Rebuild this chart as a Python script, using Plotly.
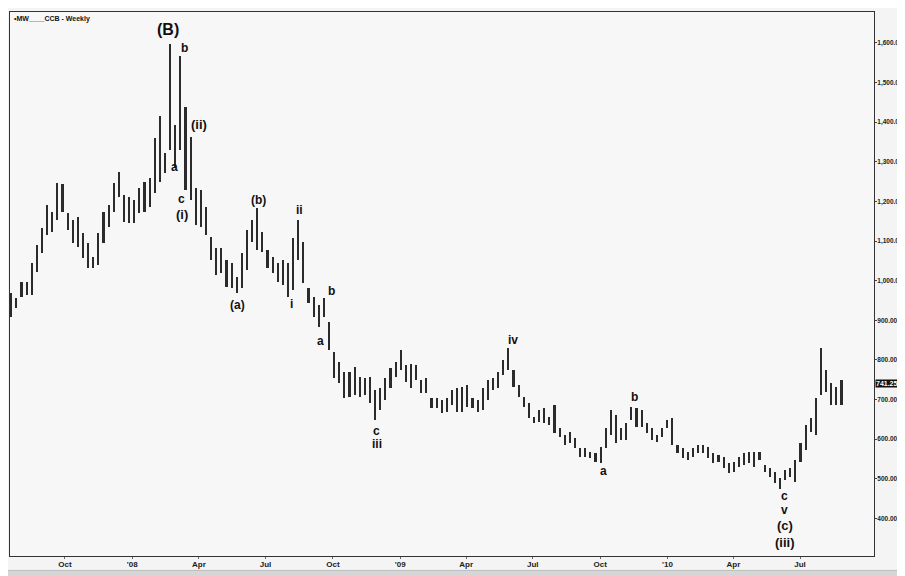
import pandas as pd
import plotly.graph_objects as go

# ---- data (weekly high / low) ----
start_week = "2007-07-20"
highs = [969, 956, 997, 997, 1044, 1090, 1133, 1191, 1173, 1246,
         1244, 1171, 1153, 1161, 1120, 1095, 1060, 1120, 1173, 1191,
         1246, 1274, 1216, 1211, 1204, 1234, 1249, 1259, 1360, 1416,
         1322, 1597, 1393, 1567, 1438, 1363, 1234, 1229, 1186, 1110,
         1082, 1082, 1052, 1044, 1009, 1070, 1128, 1153, 1183, 1123,
         1077, 1060, 1044, 1052, 1044, 1108, 1153, 1097, 981, 959,
         938, 956, 896, 820, 795, 769, 769, 782, 757, 754,
         757, 724, 729, 754, 779, 795, 825, 787, 790, 787,
         749, 754, 704, 704, 699, 704, 724, 729, 731, 736,
         704, 699, 729, 749, 754, 769, 800, 830, 774, 736,
         706, 691, 656, 673, 678, 656, 686, 628, 610, 618,
         603, 577, 577, 567, 565, 580, 628, 673, 661, 628,
         640, 681, 678, 673, 640, 628, 610, 628, 648, 653,
         585, 577, 567, 577, 585, 585, 580, 565, 560, 555,
         540, 542, 555, 565, 567, 567, 567, 535, 527, 517,
         502, 522, 527, 547, 590, 635, 653, 704, 830, 774,
         741, 731, 749]
lows = [908, 931, 959, 964, 964, 1022, 1070, 1115, 1123, 1153,
        1173, 1128, 1095, 1085, 1057, 1032, 1032, 1040, 1095, 1135,
        1173, 1211, 1148, 1145, 1145, 1171, 1173, 1186, 1221, 1249,
        1272, 1330, 1284, 1330, 1229, 1204, 1140, 1135, 1115, 1052,
        1014, 1019, 984, 981, 969, 981, 1027, 1097, 1077, 1072,
        1032, 1019, 996, 989, 959, 976, 1052, 994, 943, 908,
        883, 908, 825, 754, 741, 704, 706, 711, 706, 711,
        691, 648, 673, 699, 729, 757, 774, 744, 730, 749,
        716, 716, 678, 678, 666, 668, 686, 668, 668, 681,
        678, 668, 673, 699, 724, 729, 762, 774, 731, 706,
        681, 653, 641, 643, 641, 636, 615, 605, 585, 590,
        577, 555, 555, 552, 542, 540, 577, 610, 590, 598,
        598, 648, 630, 630, 615, 598, 593, 605, 628, 585,
        565, 552, 547, 555, 565, 565, 552, 540, 542, 527,
        514, 517, 529, 535, 540, 529, 547, 517, 504, 489,
        475, 497, 504, 492, 542, 572, 618, 610, 711, 719,
        686, 686, 686]
last_value = 741.25

tick_dates = ["2007-10-01", "2008-01-01", "2008-04-01", "2008-07-01", "2008-10-01",
              "2009-01-01", "2009-04-01", "2009-07-01", "2009-10-01",
              "2010-01-01", "2010-04-01", "2010-07-01"]
tick_text = ["Oct", "'08", "Apr", "Jul", "Oct", "'09", "Apr", "Jul", "Oct", "'10", "Apr", "Jul"]
price_ticks = [400, 500, 600, 700, 800, 900, 1000, 1100, 1200, 1300, 1400, 1500, 1600]

# wave labels: (text, week position, price, font size)
wave_labels = [
    ("(B)", 30.6, 1633, 16), ("b", 33.7, 1587, 12), ("(ii)", 36.5, 1393, 13),
    ("a", 31.8, 1287, 12), ("c", 33.2, 1206, 12), ("(i)", 33.2, 1166, 13),
    ("(b)", 48.2, 1204, 12), ("ii", 56.1, 1178, 12), ("(a)", 44.1, 938, 12),
    ("i", 54.7, 941, 12), ("b", 62.4, 974, 12), ("a", 60.2, 848, 12),
    ("c", 71.3, 620, 12), ("iii", 71.3, 587, 12), ("iv", 97.9, 850, 12),
    ("b", 121.5, 706, 12), ("a", 115.5, 519, 12),
    ("c", 150.9, 456, 12), ("v", 150.9, 421, 12), ("(c)", 150.9, 383, 13),
    ("(iii)", 150.9, 338, 13),
]

dates = pd.date_range(start_week, periods=len(highs), freq="7D")
ranges = [h - l for h, l in zip(highs, lows)]

fig = go.Figure()
fig.add_trace(go.Bar(
    x=dates, y=ranges, base=lows,
    width=2.2 * 86400000,
    marker=dict(color="#2b2b2b", line=dict(width=0)),
    showlegend=False,
))

t0 = pd.Timestamp(start_week)
annotations = []
for txt, pos, val, size in wave_labels:
    annotations.append(dict(
        x=t0 + pd.Timedelta(days=7 * pos), y=val, xref="x", yref="y",
        text=txt, showarrow=False,
        font=dict(family="Liberation Sans", size=size, color="#111", weight="bold"),
    ))

annotations.append(dict(
    x=0.002, y=0.998, xref="paper", yref="paper", xanchor="left", yanchor="top",
    text="•MW____CCB - Weekly", showarrow=False,
    font=dict(family="Liberation Sans", size=7, color="#111", weight="bold"),
))
annotations.append(dict(
    x=1.0, y=last_value, xref="paper", yref="y", xanchor="left", yanchor="middle",
    xshift=1, text="741.25", showarrow=False, bgcolor="#111",
    borderpad=0, font=dict(family="Liberation Sans", size=7, color="white", weight="bold"),
))

fig.update_layout(
    width=897, height=568,
    margin=dict(l=2, r=31, t=4, b=20, autoexpand=False),
    paper_bgcolor="#f4f4f4", plot_bgcolor="#f7f7f7",
    bargap=0,
    annotations=annotations,
    xaxis=dict(
        type="date", range=["2007-07-18", "2010-10-10"], automargin=False,
        tickvals=tick_dates, ticktext=tick_text,
        ticks="outside", ticklen=2, tickcolor="#666",
        ticklabelstandoff=-2,
        showgrid=False, zeroline=False,
        showline=True, linecolor="#333", linewidth=1, mirror=True,
        tickfont=dict(family="Liberation Sans", size=8, color="#222", weight="bold"),
    ),
    yaxis=dict(
        side="right", range=[305, 1678], automargin=False,
        tickvals=price_ticks, tickformat=",.2f",
        ticks="outside", ticklen=2, tickcolor="#444",
        ticklabelstandoff=-1,
        showgrid=False, zeroline=False,
        showline=True, linecolor="#333", linewidth=1, mirror=True,
        tickfont=dict(family="Liberation Sans", size=6.5, color="#222", weight="bold"),
    ),
    shapes=[dict(
        type="rect", xref="paper", yref="paper",
        x0=-0.01, x1=1.05, y0=-0.0395, y1=-0.0265,
        fillcolor="#d6d6d6", line=dict(color="#bbb", width=1), layer="above",
    )],
)

fig.write_html("out.html")
